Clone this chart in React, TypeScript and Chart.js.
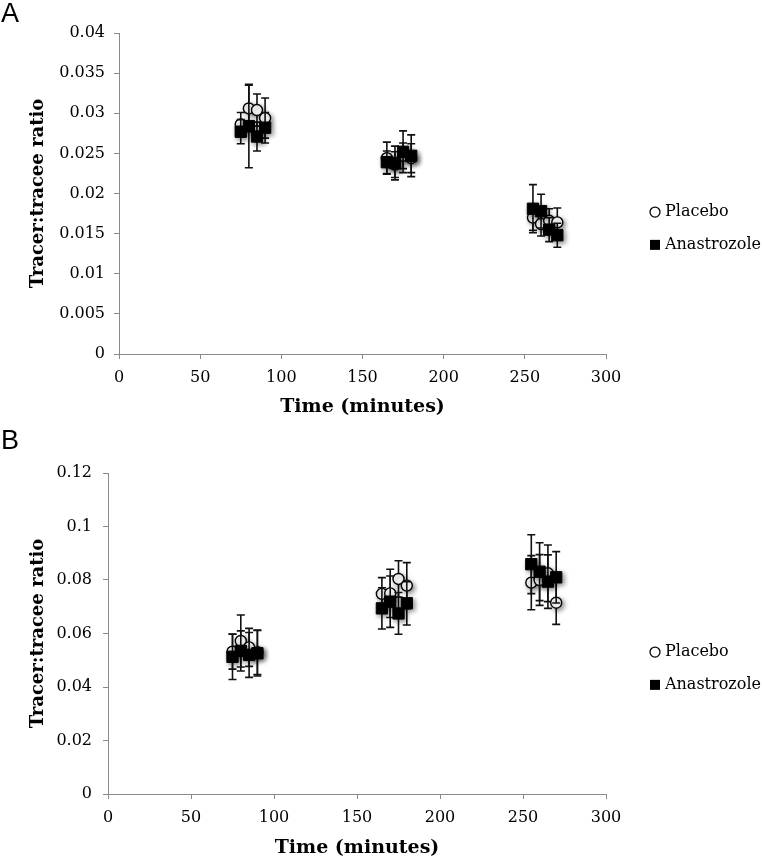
import React, { useEffect, useRef } from 'react';
import { Chart, registerables } from 'chart.js';

Chart.register(...registerables);

// ---- data ----
const TIMES = [75, 80, 85, 90, 165, 170, 175, 180, 255, 260, 265, 270];
const X_TICKS = [0, 50, 100, 150, 200, 250, 300];

const A_PLACEBO = [0.0286, 0.0306, 0.0304, 0.0294, 0.0244, 0.0236, 0.0247, 0.0244, 0.0170, 0.0162, 0.0166, 0.0164];
const A_PLACEBO_ERR = [0.0015, 0.0029, 0.0020, 0.0025, 0.0020, 0.0016, 0.0016, 0.0018, 0.0016, 0.0015, 0.0015, 0.0018];
const A_ANASTROZOLE = [0.0277, 0.0284, 0.0271, 0.0282, 0.0239, 0.0238, 0.0252, 0.0247, 0.0181, 0.0178, 0.0155, 0.0148];
const A_ANASTROZOLE_ERR = [0.0015, 0.0052, 0.0018, 0.0019, 0.0014, 0.0021, 0.0026, 0.0026, 0.0030, 0.0021, 0.0015, 0.0015];
const A_Y_TICKS = [0, 0.005, 0.01, 0.015, 0.02, 0.025, 0.03, 0.035, 0.04];

const B_PLACEBO = [0.0532, 0.0572, 0.0548, 0.0530, 0.0748, 0.0750, 0.0804, 0.0779, 0.0790, 0.0800, 0.0825, 0.0715];
const B_PLACEBO_ERR = [0.0065, 0.0097, 0.0071, 0.0083, 0.0061, 0.0090, 0.0068, 0.0086, 0.0101, 0.0095, 0.0106, 0.0081];
const B_ANASTROZOLE = [0.0513, 0.0535, 0.0520, 0.0526, 0.0694, 0.0719, 0.0675, 0.0713, 0.0859, 0.0831, 0.0794, 0.0810];
const B_ANASTROZOLE_ERR = [0.0085, 0.0075, 0.0084, 0.0085, 0.0077, 0.0096, 0.0078, 0.0081, 0.0110, 0.0108, 0.0100, 0.0096];
const B_Y_TICKS = [0, 0.02, 0.04, 0.06, 0.08, 0.1, 0.12];

const SERIES_NAMES = ['Placebo', 'Anastrozole'];
const X_TITLE = 'Time (minutes)';
const Y_TITLE = 'Tracer:tracee ratio';

const SERIF = '"DejaVu Serif", serif';
const AXIS_GREY = '#8a8a8a';

type PanelCfg = {
  letter: string;
  letterBaseline: number;
  height: number;
  top: number;
  yAxisWidth: number;
  xAxisHeight: number;
  yTickPad: number;
  placebo: number[];
  placeboErr: number[];
  anas: number[];
  anasErr: number[];
  yTicks: number[];
};

const errorBarPlugin = {
  id: 'errbars',
  beforeDatasetDraw(chart: any, args: any) {
    const ctx = chart.ctx;
    const ds = chart.data.datasets[args.index];
    const errs: number[] = ds.errors;
    const yScale = chart.scales.y;
    ctx.save();
    ctx.strokeStyle = '#111';
    ctx.lineWidth = 1.6;
    args.meta.data.forEach((pt: any, i: number) => {
      const v = ds.data[i].y;
      const e = errs[i];
      const x = pt.x;
      const yTop = yScale.getPixelForValue(v + e);
      const yBot = yScale.getPixelForValue(v - e);
      ctx.beginPath();
      ctx.moveTo(x, yTop);
      ctx.lineTo(x, yBot);
      ctx.moveTo(x - 4, yTop);
      ctx.lineTo(x + 4, yTop);
      ctx.moveTo(x - 4, yBot);
      ctx.lineTo(x + 4, yBot);
      ctx.stroke();
    });
    ctx.restore();
    ctx.save();
    ctx.shadowColor = 'rgba(0,0,0,0.45)';
    ctx.shadowBlur = 5;
    ctx.shadowOffsetX = 2;
    ctx.shadowOffsetY = 2;
  },
  afterDatasetDraw(chart: any) {
    chart.ctx.restore();
  },
};

const legendLetterPlugin = {
  id: 'legendLetter',
  afterDraw(chart: any) {
    const ctx = chart.ctx;
    const opts = chart.options.plugins.legendLetter;
    const area = chart.chartArea;
    const h = area.bottom - area.top;
    ctx.save();
    // panel letter
    ctx.fillStyle = '#000';
    ctx.font = '27px "Liberation Sans", Arial, sans-serif';
    ctx.textBaseline = 'alphabetic';
    ctx.textAlign = 'left';
    ctx.fillText(opts.letter, 1, opts.letterBaseline);
    // legend
    const fr = [0.558, 0.66];
    chart.data.datasets.forEach((ds: any, i: number) => {
      const y = area.top + fr[i] * h;
      const mx = area.right + 49;
      ctx.lineWidth = 1.3;
      ctx.strokeStyle = '#000';
      if (ds.pointStyle === 'circle') {
        ctx.fillStyle = '#fff';
        ctx.beginPath();
        ctx.arc(mx, y, 5, 0, Math.PI * 2);
        ctx.fill();
        ctx.stroke();
      } else {
        ctx.fillStyle = '#000';
        ctx.fillRect(mx - 5, y - 5, 10, 10);
      }
      ctx.fillStyle = '#000';
      ctx.font = `16px ${SERIF}`;
      ctx.textBaseline = 'middle';
      ctx.fillText(ds.label, mx + 10, y);
    });
    ctx.restore();
  },
};

function Panel({ cfg }: { cfg: PanelCfg }) {
  const ref = useRef<HTMLCanvasElement | null>(null);
  useEffect(() => {
    if (!ref.current) return;
    const tickFont = { family: SERIF, size: 16 };
    const chart = new Chart(ref.current, {
      type: 'scatter',
      data: {
        datasets: [
          {
            label: SERIES_NAMES[0],
            data: TIMES.map((t, i) => ({ x: t, y: cfg.placebo[i] })),
            errors: cfg.placeboErr,
            pointStyle: 'circle',
            pointRadius: 5.5,
            pointBackgroundColor: '#fff',
            pointBorderColor: '#000',
            pointBorderWidth: 1.4,
            showLine: false,
            order: 1,
          } as any,
          {
            label: SERIES_NAMES[1],
            data: TIMES.map((t, i) => ({ x: t, y: cfg.anas[i] })),
            errors: cfg.anasErr,
            pointStyle: 'rect',
            pointRadius: 8,
            pointBackgroundColor: '#000',
            pointBorderColor: '#000',
            pointBorderWidth: 1,
            showLine: false,
            order: 0,
          } as any,
        ],
      },
      options: {
        animation: false,
        responsive: false,
        devicePixelRatio: 1,
        layout: { padding: { top: cfg.top, right: 156, left: 0, bottom: 0 } },
        plugins: {
          legend: { display: false },
          tooltip: { enabled: false },
          legendLetter: { letter: cfg.letter, letterBaseline: cfg.letterBaseline },
        } as any,
        scales: {
          x: {
            type: 'linear',
            min: 0,
            max: 300,
            afterBuildTicks: (s: any) => {
              s.ticks = X_TICKS.map((v) => ({ value: v }));
            },
            afterFit: (s: any) => {
              s.height = cfg.xAxisHeight;
            },
            ticks: { font: tickFont, color: '#000', padding: 9, maxRotation: 0, callback: (v: any) => String(v) },
            grid: { display: true, drawOnChartArea: false, drawTicks: true, tickLength: 5, color: AXIS_GREY },
            border: { display: true, color: AXIS_GREY, width: 1 },
            title: {
              display: true,
              text: X_TITLE,
              color: '#000',
              font: { family: SERIF, size: 19, weight: 'bold' },
              padding: { top: 0, bottom: 2 },
            },
          },
          y: {
            type: 'linear',
            min: 0,
            max: cfg.yTicks[cfg.yTicks.length - 1],
            afterBuildTicks: (s: any) => {
              s.ticks = cfg.yTicks.map((v) => ({ value: v }));
            },
            afterFit: (s: any) => {
              s.width = cfg.yAxisWidth;
            },
            ticks: { font: tickFont, color: '#000', padding: cfg.yTickPad, callback: (v: any) => String(v) },
            grid: { display: true, drawOnChartArea: false, drawTicks: true, tickLength: 5, color: AXIS_GREY },
            border: { display: true, color: AXIS_GREY, width: 1 },
            title: {
              display: true,
              text: Y_TITLE,
              color: '#000',
              font: { family: SERIF, size: 18, weight: 'bold' },
              padding: { top: 28, bottom: 0 },
            },
          },
        },
      } as any,
      plugins: [errorBarPlugin, legendLetterPlugin],
    });
    return () => chart.destroy();
  }, [cfg]);
  return (
    <canvas
      ref={ref}
      width={762}
      height={cfg.height}
      style={{ display: 'block', width: 762, height: cfg.height }}
    />
  );
}

const PANEL_A: PanelCfg = {
  letter: 'A',
  letterBaseline: 22,
  height: 420,
  top: 33,
  yAxisWidth: 119,
  xAxisHeight: 66,
  yTickPad: 9,
  placebo: A_PLACEBO,
  placeboErr: A_PLACEBO_ERR,
  anas: A_ANASTROZOLE,
  anasErr: A_ANASTROZOLE_ERR,
  yTicks: A_Y_TICKS,
};

const PANEL_B: PanelCfg = {
  letter: 'B',
  letterBaseline: 29,
  height: 441,
  top: 53,
  yAxisWidth: 108,
  xAxisHeight: 67,
  yTickPad: 11,
  placebo: B_PLACEBO,
  placeboErr: B_PLACEBO_ERR,
  anas: B_ANASTROZOLE,
  anasErr: B_ANASTROZOLE_ERR,
  yTicks: B_Y_TICKS,
};

export default function App() {
  return (
    <div style={{ position: 'absolute', left: 0, top: 0, width: 762, height: 861, background: '#fff' }}>
      <Panel cfg={PANEL_A} />
      <Panel cfg={PANEL_B} />
    </div>
  );
}
